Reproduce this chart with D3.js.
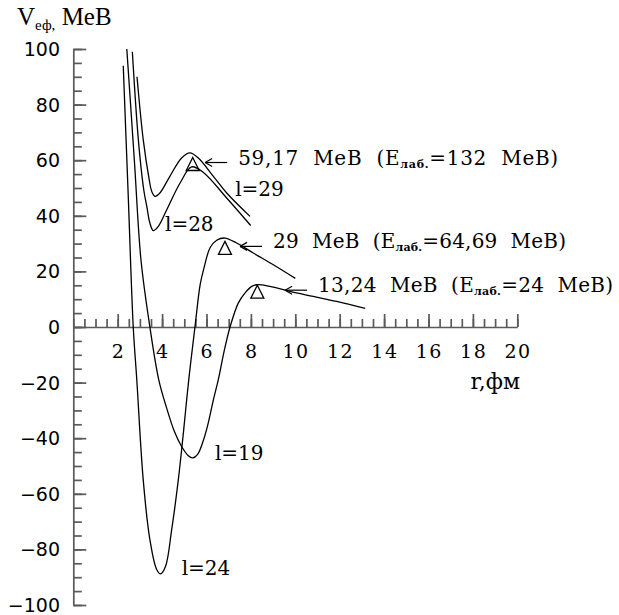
<!DOCTYPE html>
<html>
<head>
<meta charset="utf-8">
<style>
    body { margin: 0; background: #fff; }
    .curves path { fill: none; stroke: #000; stroke-width: 1.3; }
    .axis line, .axis path { stroke: #5a5a5a; stroke-width: 1.7; }
    .marks path { fill: none; stroke: #000; stroke-width: 1.3; }
    .arrows line { stroke: #000; stroke-width: 1.2; }
    text { font-family: "DejaVu Serif", serif; fill: #000; white-space: pre; }
</style>
</head>
<body>
<svg id="chart"></svg>
<script src="https://cdn.jsdelivr.net/npm/d3@7"></script>
<script>
    let width = 619,
        height = 615

    // r (fm), V_eff (MeV)
    let l24 = [[2.25, 94], [2.48, 46], [2.70, 0], [2.86, -19], [3.15, -55], [3.45, -76.5], [3.76, -87.3],
        [3.94, -88.8], [4.16, -86], [4.43, -73], [4.73, -55], [4.96, -38], [5.2, -19], [5.48, 0],
        [5.72, 15.5], [5.88, 21], [6.16, 28.5], [6.46, 31.2], [6.83, 32], [7.36, 30.2], [8.11, 26.6],
        [9.01, 22.4], [10.0, 17.5]]
    let l19 = [[2.41, 100], [2.75, 60], [3.05, 24], [3.45, 0], [3.85, -19], [4.2, -29], [4.55, -37.5],
        [4.88, -43], [5.18, -46.3], [5.38, -47.1], [5.6, -45.8], [5.85, -41], [6.05, -35.5],
        [6.31, -26.2], [6.53, -19], [6.8, -8.5], [7.06, 0], [7.43, 8.6], [7.73, 12.2], [8.04, 14.6],
        [8.26, 15.2], [8.86, 14.6], [9.76, 12.8], [10.81, 11.0], [11.86, 9.2], [13.15, 6.7]]
    let l28 = [[2.66, 99], [2.93, 67.4], [3.18, 49], [3.31, 43.4], [3.45, 37.4], [3.6, 34.7], [3.83, 36.2],
        [4.21, 42.2], [4.81, 51.8], [5.33, 57.6], [5.86, 55.6], [6.91, 46.4], [7.99, 36.5]]
    let l29 = [[2.87, 90], [3.15, 67.4], [3.42, 53], [3.53, 48.8], [3.68, 47], [3.9, 48.2], [4.35, 54.2],
        [4.88, 60.8], [5.25, 62.6], [5.63, 60.8], [6.31, 54.2], [6.91, 48.2], [7.96, 39.8]]

    // barrier heights marked with triangles
    let barrierR = [5.38, 6.83, 8.29]
    let barrierV = [59.17, 29, 13.24]
    let barrierText = ["59,17", "29", "13,24"]
    let labEnergy = ["132", "64,69", "24"]

    let rLabels = [2, 4, 6, 8, 10, 12, 14, 16, 18, 20]
    let vLabels = [100, 80, 60, 40, 20, 0, -20, -40, -60, -80, -100]

    let svg = d3.select("#chart").attr("width", width).attr("height", height)

    let x = d3.scaleLinear().domain([0, 20]).range([73.3, 517.3])
    let y = d3.scaleLinear().domain([-100, 100]).range([605, 49])

    // axes
    let gx = svg.append("g").attr("class", "axis").attr("transform", `translate(0,${y(0)})`)
    gx.call(d3.axisBottom(x).tickValues(d3.range(0, 20.01, 0.5)).tickSize(-8).tickSizeOuter(0).tickFormat(""))
    gx.append("g").call(d3.axisBottom(x).tickValues(rLabels).tickSize(-13).tickFormat(""))
        .select(".domain").remove()

    let gy = svg.append("g").attr("class", "axis").attr("transform", `translate(${x(0)},0)`)
    gy.call(d3.axisRight(y).tickValues(d3.range(-100, 100.01, 5)).tickSize(8.5).tickSizeOuter(0).tickFormat(""))
    gy.append("g").call(d3.axisRight(y).tickValues(vLabels).tickSize(13).tickFormat(""))
        .select(".domain").remove()

    svg.selectAll(".axis text").remove()

    svg.append("g").selectAll("text").data(rLabels).enter().append("text")
        .attr("x", d => x(d) + 0.8).attr("y", y(0) + 31)
        .attr("text-anchor", "middle").style("font-size", "19px").style("letter-spacing", "1.5px")
        .text(d => d)

    svg.append("g").selectAll("text").data(vLabels).enter().append("text")
        .attr("x", 60).attr("y", d => y(d) + 7)
        .attr("text-anchor", "end")
        .style("font-family", "'DejaVu Sans', sans-serif").style("font-size", "19px")
        .text(d => d < 0 ? "\u2212" + Math.abs(d) : d)

    svg.append("text").attr("x", 520).attr("y", 389).attr("text-anchor", "end")
        .style("font-size", "22px").text("r,фм")

    let title = svg.append("text").attr("x", 17).attr("y", 25)
        .style("font-family", "'Liberation Serif', 'Times New Roman', serif").style("font-size", "25px")
    title.append("tspan").text("V")
    title.append("tspan").attr("dy", 5).style("font-size", "15px").text("еф,")
    title.append("tspan").attr("dy", -5).text(" MeB")

    // curves
    let line = d3.line().x(d => x(d[0])).y(d => y(d[1])).curve(d3.curveCatmullRom.alpha(0.5))
    svg.append("g").attr("class", "curves").selectAll("path")
        .data([l24, l19, l28, l29]).enter().append("path")
        .attr("d", line)

    // curve labels
    let curveLabels = [["l=29", 7.29, 47], ["l=28", 4.13, 34.4], ["l=19", 6.38, -47.7], ["l=24", 4.88, -89.1]]
    svg.append("g").selectAll("text").data(curveLabels).enter().append("text")
        .attr("x", d => x(d[1])).attr("y", d => y(d[2]))
        .style("font-size", "20px").text(d => d[0])

    // triangles
    svg.append("g").attr("class", "marks").selectAll("path")
        .data(barrierR).enter().append("path")
        .attr("d", (d, i) => {
            let cx = x(d), cy = y(barrierV[i])
            return `M${cx},${cy - 5}L${cx + 6.5},${cy + 8}L${cx - 6.5},${cy + 8}Z`
        })

    // arrows and annotation text
    let arrowTip = [5.94, 7.51, 9.54]
    let textLen = [320, 293, 295]
    let arrows = svg.append("g").attr("class", "arrows")
    barrierV.forEach((v, i) => {
        let tx = x(arrowTip[i]), ty = y(v)
        arrows.append("line").attr("x1", tx).attr("y1", ty).attr("x2", tx + 22).attr("y2", ty)
        arrows.append("line").attr("x1", tx).attr("y1", ty).attr("x2", tx + 7).attr("y2", ty - 4)
        arrows.append("line").attr("x1", tx).attr("y1", ty).attr("x2", tx + 7).attr("y2", ty + 4)

        let t = svg.append("text").attr("x", tx + 33).attr("y", ty + 2)
            .attr("textLength", textLen[i]).attr("lengthAdjust", "spacing")
            .style("font-size", "20px")
        t.append("tspan").text(barrierText[i] + "  MeB  (E")
        t.append("tspan").attr("dy", 3).style("font-size", "11px").style("font-weight", "bold").text("лаб.")
        t.append("tspan").attr("dy", -3).text("=" + labEnergy[i] + "  MeB)")
    })
</script>
</body>
</html>
